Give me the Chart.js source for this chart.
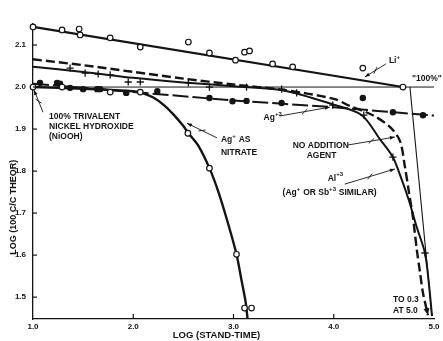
<!DOCTYPE html>
<html>
<head>
<meta charset="utf-8">
<script src="https://cdn.jsdelivr.net/npm/chart.js@4.4.1/dist/chart.umd.min.js"></script>
<style>
  html, body { margin: 0; padding: 0; background: #fff; }
</style>
</head>
<body>
<canvas id="chart" width="443" height="341"></canvas>
<script>
// axis ticks
const xTicks = [1.0, 2.0, 3.0, 4.0, 5.0];
const yTicks = [1.5, 1.6, 1.7, 1.8, 1.9, 2.0, 2.1];

// "100%" reference line
const fullLine = [[1.0, 2.0], [5.0, 2.0]];

// Li+
const liFit = [[1.0, 2.143], [4.69, 2.0]];
const liDrop = [[4.76, 2.0], [4.98, 1.455]];
const liPts = [[1.0, 2.143], [1.29, 2.136], [1.46, 2.138], [1.47, 2.124], [1.77, 2.117], [2.07, 2.095],
  [2.55, 2.107], [2.76, 2.081], [3.02, 2.064], [3.11, 2.083], [3.16, 2.086], [3.39, 2.055],
  [3.59, 2.048], [4.29, 2.045], [4.69, 2.0]];

// no addition agent (dashed)
const noAdd = [[1.0, 2.066], [1.5, 2.052], [2.0, 2.036], [2.5, 2.02], [3.0, 2.006], [3.5, 1.993],
  [4.0, 1.972], [4.16, 1.955], [4.39, 1.933], [4.56, 1.905], [4.66, 1.872], [4.71, 1.81],
  [4.75, 1.75], [4.79, 1.69], [4.83, 1.61], [4.86, 1.56], [4.89, 1.51], [4.94, 1.457]];

// Al+3 (Ag+ or Sb+3 similar)
const al3Line = [[1.0, 2.048], [1.5, 2.036], [2.0, 2.022], [2.5, 2.011], [3.0, 2.002], [3.5, 1.992],
  [4.0, 1.958], [4.28, 1.933], [4.46, 1.876], [4.59, 1.833], [4.67, 1.785], [4.75, 1.73],
  [4.83, 1.665], [4.91, 1.605], [4.95, 1.53], [4.98, 1.455]];
const al3Pts = [[1.37, 2.045], [1.52, 2.033], [1.65, 2.031], [1.77, 2.029], [1.95, 2.012], [2.07, 2.012],
  [2.55, 2.01], [2.76, 2.0], [3.13, 2.0], [3.48, 1.995], [3.63, 1.986], [3.99, 1.957],
  [4.30, 1.933], [4.59, 1.833], [4.91, 1.605]];

// Ag+3
const ag3Line = [[1.0, 2.008], [2.0, 1.988], [3.0, 1.968], [3.5, 1.96], [4.0, 1.952], [4.5, 1.942], [5.0, 1.932]];
const ag3Pts = [[1.07, 2.01], [1.24, 2.01], [1.27, 2.008], [1.37, 1.998], [1.5, 1.995], [1.64, 1.995],
  [1.67, 1.995], [1.93, 1.986], [2.24, 1.99], [2.76, 1.974], [2.99, 1.966], [3.13, 1.967],
  [3.48, 1.962], [4.29, 1.974], [4.59, 1.94], [4.89, 1.933]];

// Ag+ as nitrate
const agNitLine = [[1.0, 2.0], [1.5, 1.996], [2.0, 1.99], [2.1, 1.985], [2.2, 1.975], [2.3, 1.958],
  [2.4, 1.935], [2.5, 1.907], [2.55, 1.89], [2.65, 1.86], [2.76, 1.807], [2.85, 1.75],
  [2.94, 1.68], [3.03, 1.602], [3.08, 1.54], [3.12, 1.49], [3.14, 1.449]];
const agNitPts = [[1.0, 2.0], [1.29, 2.0], [1.77, 1.988], [2.07, 1.988], [2.545, 1.89], [2.76, 1.807],
  [3.03, 1.602], [3.11, 1.474], [3.18, 1.474]];

// text notes: [x, y, text] ; ^ marks a superscript
const notes = [
  [1.16, 1.929, '100% TRIVALENT'], [1.16, 1.905, 'NICKEL HYDROXIDE'], [1.16, 1.881, '(NiOOH)'],
  [2.875, 1.874, 'Ag^+ AS'], [2.875, 1.845, 'NITRATE'],
  [3.30, 1.926, 'Ag^+3'],
  [4.55, 2.062, 'Li^+'],
  [4.78, 2.019, '"100%"'],
  [3.59, 1.860, 'NO ADDITION'], [3.73, 1.836, 'AGENT'],
  [3.94, 1.783, 'Al^+3'], [3.49, 1.748, '(Ag^+ OR Sb^+3 SIMILAR)'],
  [4.59, 1.493, 'TO 0.3'], [4.59, 1.467, 'AT 5.0']
];
// leaders from note to curve
const leaders = [
  [[1.10, 1.940], [1.01, 1.993]],
  [[2.835, 1.879], [2.536, 1.914]],
  [[3.46, 1.931], [3.96, 1.952]],
  [[4.52, 2.055], [4.31, 2.024]],
  [[4.14, 1.862], [4.61, 1.881]],
  [[4.11, 1.769], [4.61, 1.805]]
];

const INK = '#141414';
const pts = a => a.map(p => ({ x: p[0], y: p[1] }));

function line(data, width, extra) {
  return Object.assign({
    data: pts(data), showLine: true, borderColor: INK, borderWidth: width,
    pointRadius: 0, tension: 0, clip: false, order: 2
  }, extra || {});
}
function marks(data, style) {
  return Object.assign({
    data: pts(data), showLine: false, pointRadius: 2.8, pointBorderWidth: 1.2,
    pointBorderColor: INK, pointBackgroundColor: '#fff', clip: false, order: 1
  }, style || {});
}

function drawRich(ctx, x, y, text) {
  const parts = text.split(/\^(\S+)/);
  let cx = x;
  parts.forEach((s, i) => {
    if (i % 2 === 1) {
      ctx.font = 'bold 6px "Liberation Sans"';
      ctx.fillText(s, cx, y - 4);
    } else {
      ctx.font = 'bold 8.5px "Liberation Sans"';
      ctx.fillText(s, cx, y);
    }
    cx += ctx.measureText(s).width + (i % 2 === 1 ? 0.5 : 0);
  });
}

function arrowHead(ctx, x1, y1, x2, y2, len, wid) {
  const a = Math.atan2(y2 - y1, x2 - x1);
  ctx.beginPath();
  ctx.moveTo(x2, y2);
  ctx.lineTo(x2 - len * Math.cos(a) + wid * Math.sin(a), y2 - len * Math.sin(a) - wid * Math.cos(a));
  ctx.lineTo(x2 - len * Math.cos(a) - wid * Math.sin(a), y2 - len * Math.sin(a) + wid * Math.cos(a));
  ctx.closePath();
  ctx.fill();
}

const extras = {
  id: 'extras',
  afterDraw(chart) {
    const ctx = chart.ctx, xs = chart.scales.x, ys = chart.scales.y, area = chart.chartArea;
    ctx.save();
    ctx.fillStyle = INK;
    ctx.strokeStyle = INK;
    // inward tick marks
    ctx.lineWidth = 1.2;
    yTicks.forEach(v => {
      const py = ys.getPixelForValue(v);
      ctx.beginPath(); ctx.moveTo(area.left, py); ctx.lineTo(area.left + 4, py); ctx.stroke();
    });
    xTicks.slice(1, -1).forEach(v => {
      const px = xs.getPixelForValue(v);
      ctx.beginPath(); ctx.moveTo(px, area.bottom); ctx.lineTo(px, area.bottom - 5); ctx.stroke();
    });
    // notes
    ctx.textBaseline = 'middle';
    ctx.textAlign = 'left';
    notes.forEach(n => drawRich(ctx, xs.getPixelForValue(n[0]), ys.getPixelForValue(n[1]), n[2]));
    // leaders
    ctx.lineWidth = 0.9;
    leaders.forEach(l => {
      const x1 = xs.getPixelForValue(l[0][0]), y1 = ys.getPixelForValue(l[0][1]);
      const x2 = xs.getPixelForValue(l[1][0]), y2 = ys.getPixelForValue(l[1][1]);
      ctx.beginPath(); ctx.moveTo(x1, y1); ctx.lineTo(x2, y2); ctx.stroke();
      const mx = (x1 + x2) / 2, my = (y1 + y2) / 2;
      const a = Math.atan2(y2 - y1, x2 - x1);
      ctx.beginPath();
      ctx.moveTo(mx - 3 * Math.cos(a) - 2 * Math.sin(a), my - 3 * Math.sin(a) + 2 * Math.cos(a));
      ctx.lineTo(mx + 3 * Math.cos(a) + 2 * Math.sin(a), my + 3 * Math.sin(a) - 2 * Math.cos(a));
      ctx.stroke();
      arrowHead(ctx, x1, y1, x2, y2, 5, 1.8);
    });
    // arrow at end of dashed curve
    const n = noAdd.length;
    arrowHead(ctx, xs.getPixelForValue(noAdd[n - 2][0]), ys.getPixelForValue(noAdd[n - 2][1]),
      xs.getPixelForValue(noAdd[n - 1][0]), ys.getPixelForValue(noAdd[n - 1][1]), 7, 3);
    // axis titles
    ctx.font = 'bold 9.5px "Liberation Sans"';
    ctx.textAlign = 'center';
    ctx.fillText('LOG (STAND-TIME)', xs.getPixelForValue(2.83), area.bottom + 16);
    ctx.translate(14, ys.getPixelForValue(1.714));
    ctx.rotate(-Math.PI / 2);
    ctx.font = 'bold 9px "Liberation Sans"';
    ctx.fillText('LOG (100 C/C THEOR)', 0, 0);
    ctx.restore();
  }
};

new Chart(document.getElementById('chart'), {
  type: 'scatter',
  data: {
    datasets: [
      line(fullLine, 1),
      line(liFit, 2.2),
      line(liDrop, 1.1),
      line(noAdd, 2.4, { borderDash: [9, 4], tension: 0.3 }),
      line(al3Line, 2, { tension: 0.3 }),
      line(ag3Line, 2, { borderDash: [16, 4] }),
      line(agNitLine, 2.4, { tension: 0.3 }),
      marks(liPts),
      marks(agNitPts),
      marks(ag3Pts, { pointBackgroundColor: INK, pointRadius: 2.6 }),
      marks(al3Pts, { pointStyle: 'cross', pointRadius: 3.6, pointBorderWidth: 1.3 })
    ]
  },
  options: {
    responsive: false,
    animation: false,
    devicePixelRatio: 1,
    layout: { padding: { top: 24, right: 9, left: 0, bottom: 0 } },
    plugins: { legend: { display: false }, tooltip: { enabled: false } },
    scales: {
      x: {
        type: 'linear', min: 1.0, max: 5.0,
        afterFit: s => { s.height = 22; },
        afterBuildTicks: s => { s.ticks = xTicks.map(v => ({ value: v })); },
        grid: { display: false, drawTicks: false },
        border: { display: true, color: INK, width: 1.3 },
        ticks: { color: INK, padding: 3, font: { family: 'Liberation Sans', size: 8, weight: 'bold' },
          callback: v => v.toFixed(1) }
      },
      y: {
        type: 'linear', min: 1.448, max: 2.15,
        afterFit: s => { s.width = 33; },
        afterBuildTicks: s => { s.ticks = yTicks.map(v => ({ value: v })); },
        grid: { display: false, drawTicks: false },
        border: { display: true, color: INK, width: 1.3 },
        ticks: { color: INK, padding: 7, font: { family: 'Liberation Sans', size: 8, weight: 'bold' },
          callback: v => v.toFixed(1) }
      }
    }
  },
  plugins: [extras]
});
</script>
</body>
</html>
